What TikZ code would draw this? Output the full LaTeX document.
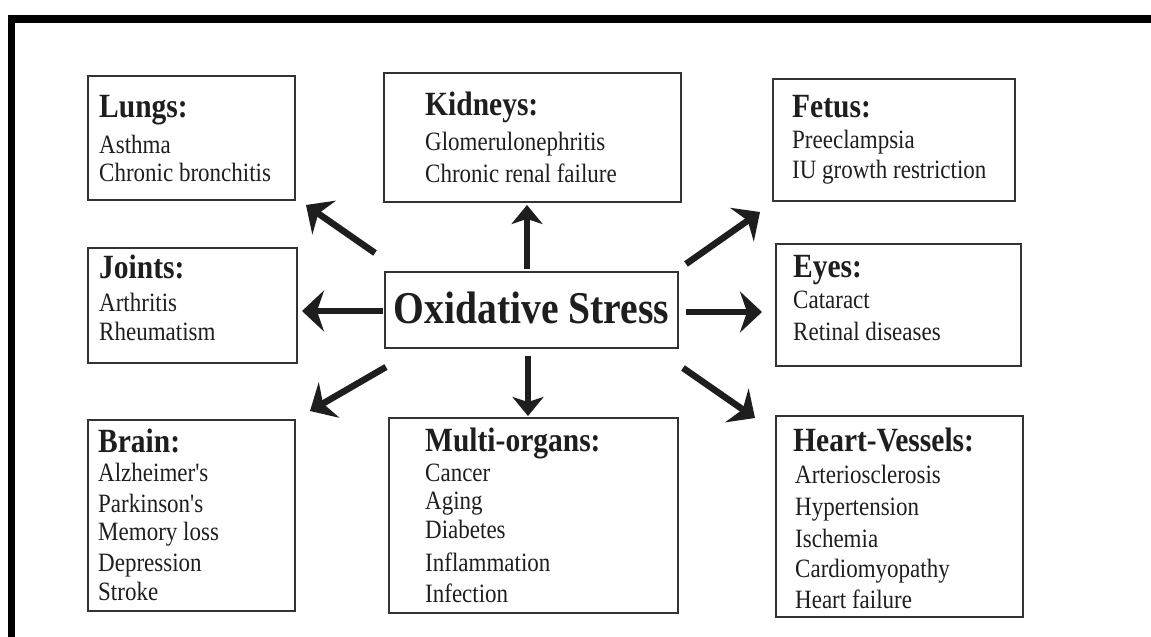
\documentclass[tikz,border=0pt]{standalone}
\usepackage{fontspec}
\setmainfont{Liberation Serif}
\newfontfamily\plainserif{Liberation Serif}
\usetikzlibrary{arrows.meta,fit}
\definecolor{ink}{HTML}{1E1E1E}
\definecolor{edge}{HTML}{333333}
\newcommand\vstr[1]{\scalebox{1}[1.15]{#1}}
\begin{document}
\begin{tikzpicture}[x=1pt,y=-1pt,
  box/.style={draw=edge,line width=1.3pt,inner sep=0pt},
  ttl/.style={anchor=base west,inner sep=0pt,text=ink,font=\fontsize{29.5}{30}\selectfont\bfseries},
  item/.style={anchor=base west,inner sep=0pt,text=ink,font=\plainserif\fontsize{23}{24}\selectfont},
  big/.style={anchor=base,inner sep=0pt,text=ink,font=\fontsize{39.6}{40}\selectfont\bfseries},
  arr/.style={line width=6.5pt,draw=ink,-{Stealth[length=22pt,width=41pt,inset=7pt]}},
  varr/.style={line width=5.5pt,draw=ink,-{Stealth[length=19pt,width=31pt,inset=5pt]}}]
\useasboundingbox (0,0) rectangle (1151,637);
% outer frame (cut off at right and bottom)
\draw[line width=7.5pt,black] (1170,19) -- (11.5,19) -- (11.5,660);

% boxes
\node[box,fit={(88,76)(295,200)}] (lungs) {};
\node[box,fit={(384,73)(681,202)}] (kid) {};
\node[box,fit={(773,79)(1015,201)}] (fetus) {};
\node[box,fit={(88,248)(297,363)}] (joints) {};
\node[box,fit={(385,272)(678,348)}] (os) {};
\node[box,fit={(776,244)(1021,366)}] (eyes) {};
\node[box,fit={(88,420)(295,611)}] (brain) {};
\node[box,fit={(389,418)(678,613)}] (multi) {};
\node[box,fit={(776,416)(1023,617)}] (heart) {};

% central text
\node[big] (os-t) at (531.5,323) {\vstr{Oxidative Stress}};

% Lungs
\node[ttl] (lungs-0) at (99,117) {\vstr{Lungs:}};
\foreach \t/\y [count=\i] in {Asthma/153,Chronic bronchitis/181}
  \node[item] (lungs-\i) at (99,\y) {\vstr{\t}};
% Kidneys
\node[ttl] (kid-0) at (425,115) {\vstr{Kidneys:}};
\foreach \t/\y [count=\i] in {Glomerulonephritis/150,Chronic renal failure/182}
  \node[item] (kid-\i) at (425,\y) {\vstr{\t}};
% Fetus
\node[ttl] (fetus-0) at (792,117) {\vstr{Fetus:}};
\foreach \t/\y [count=\i] in {Preeclampsia/148,IU growth restriction/178}
  \node[item] (fetus-\i) at (792,\y) {\vstr{\t}};
% Joints
\node[ttl] (joints-0) at (99,278) {\vstr{Joints:}};
\foreach \t/\y [count=\i] in {Arthritis/311,Rheumatism/340}
  \node[item] (joints-\i) at (99,\y) {\vstr{\t}};
% Eyes
\node[ttl] (eyes-0) at (793,277) {\vstr{Eyes:}};
\foreach \t/\y [count=\i] in {Cataract/308,Retinal diseases/340}
  \node[item] (eyes-\i) at (793,\y) {\vstr{\t}};
% Brain
\node[ttl] (brain-0) at (98,452) {\vstr{Brain:}};
\foreach \t/\y [count=\i] in {Alzheimer's/481,Parkinson's/512,Memory loss/540,Depression/571,Stroke/600}
  \node[item] (brain-\i) at (98,\y) {\vstr{\t}};
% Multi-organs
\node[ttl] (multi-0) at (425,451) {\vstr{Multi-organs:}};
\foreach \t/\y [count=\i] in {Cancer/481,Aging/509,Diabetes/538,Inflammation/571,Infection/602}
  \node[item] (multi-\i) at (425,\y) {\vstr{\t}};
% Heart-Vessels
\node[ttl] (heart-0) at (793,451) {\vstr{Heart-Vessels:}};
\foreach \t/\y [count=\i] in {Arteriosclerosis/483,Hypertension/515,Ischemia/547,Cardiomyopathy/577,Heart failure/608}
  \node[item] (heart-\i) at (795,\y) {\vstr{\t}};

% arrow end points
\coordinate (ul-s) at (375,253); \coordinate (ul-e) at (306,205);
\coordinate (u-s) at (527,269);  \coordinate (u-e) at (527,205);
\coordinate (ur-s) at (686,264); \coordinate (ur-e) at (760,212);
\coordinate (l-s) at (383,311);  \coordinate (l-e) at (302,311);
\coordinate (r-s) at (686,312);  \coordinate (r-e) at (762,312);
\coordinate (ll-s) at (386,367); \coordinate (ll-e) at (310,411);
\coordinate (d-s) at (528,356);  \coordinate (d-e) at (528,416);
\coordinate (lr-s) at (683,368); \coordinate (lr-e) at (755,418);

\draw[arr] (ul-s) -- (ul-e);
\draw[varr] (u-s) -- (u-e);
\draw[arr] (ur-s) -- (ur-e);
\draw[arr] (l-s) -- (l-e);
\draw[arr] (r-s) -- (r-e);
\draw[arr] (ll-s) -- (ll-e);
\draw[varr] (d-s) -- (d-e);
\draw[arr] (lr-s) -- (lr-e);
\end{tikzpicture}
\end{document}
